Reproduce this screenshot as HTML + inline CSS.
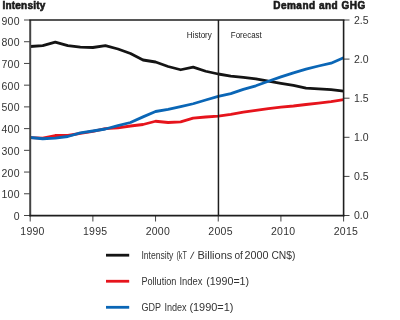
<!DOCTYPE html>
<html><head><meta charset="utf-8"><style>
html,body{margin:0;padding:0;background:#fff;}
svg{display:block;font-family:"Liberation Sans",sans-serif;will-change:transform;}
</style></head><body>
<svg width="400" height="320" viewBox="0 0 400 320">
<line x1="24" y1="215.50" x2="30.20" y2="215.50" stroke="#444" stroke-width="1"/>
<text x="19.9" y="220.10" text-anchor="end" font-size="10.5" fill="#333" letter-spacing="0.3">0</text>
<line x1="24" y1="193.78" x2="30.20" y2="193.78" stroke="#444" stroke-width="1"/>
<text x="19.9" y="198.38" text-anchor="end" font-size="10.5" fill="#333" letter-spacing="0.3">100</text>
<line x1="24" y1="172.06" x2="30.20" y2="172.06" stroke="#444" stroke-width="1"/>
<text x="19.9" y="176.66" text-anchor="end" font-size="10.5" fill="#333" letter-spacing="0.3">200</text>
<line x1="24" y1="150.33" x2="30.20" y2="150.33" stroke="#444" stroke-width="1"/>
<text x="19.9" y="154.93" text-anchor="end" font-size="10.5" fill="#333" letter-spacing="0.3">300</text>
<line x1="24" y1="128.61" x2="30.20" y2="128.61" stroke="#444" stroke-width="1"/>
<text x="19.9" y="133.21" text-anchor="end" font-size="10.5" fill="#333" letter-spacing="0.3">400</text>
<line x1="24" y1="106.89" x2="30.20" y2="106.89" stroke="#444" stroke-width="1"/>
<text x="19.9" y="111.49" text-anchor="end" font-size="10.5" fill="#333" letter-spacing="0.3">500</text>
<line x1="24" y1="85.17" x2="30.20" y2="85.17" stroke="#444" stroke-width="1"/>
<text x="19.9" y="89.77" text-anchor="end" font-size="10.5" fill="#333" letter-spacing="0.3">600</text>
<line x1="24" y1="63.44" x2="30.20" y2="63.44" stroke="#444" stroke-width="1"/>
<text x="19.9" y="68.04" text-anchor="end" font-size="10.5" fill="#333" letter-spacing="0.3">700</text>
<line x1="24" y1="41.72" x2="30.20" y2="41.72" stroke="#444" stroke-width="1"/>
<text x="19.9" y="46.32" text-anchor="end" font-size="10.5" fill="#333" letter-spacing="0.3">800</text>
<line x1="24" y1="20.00" x2="30.20" y2="20.00" stroke="#444" stroke-width="1"/>
<text x="19.9" y="24.60" text-anchor="end" font-size="10.5" fill="#333" letter-spacing="0.3">900</text>
<line x1="343.60" y1="215.50" x2="349.5" y2="215.50" stroke="#444" stroke-width="1"/>
<text x="354" y="219.20" font-size="10.5" fill="#333">0.0</text>
<line x1="343.60" y1="176.40" x2="349.5" y2="176.40" stroke="#444" stroke-width="1"/>
<text x="354" y="180.10" font-size="10.5" fill="#333">0.5</text>
<line x1="343.60" y1="137.30" x2="349.5" y2="137.30" stroke="#444" stroke-width="1"/>
<text x="354" y="141.00" font-size="10.5" fill="#333">1.0</text>
<line x1="343.60" y1="98.20" x2="349.5" y2="98.20" stroke="#444" stroke-width="1"/>
<text x="354" y="101.90" font-size="10.5" fill="#333">1.5</text>
<line x1="343.60" y1="59.10" x2="349.5" y2="59.10" stroke="#444" stroke-width="1"/>
<text x="354" y="62.80" font-size="10.5" fill="#333">2.0</text>
<line x1="343.60" y1="20.00" x2="349.5" y2="20.00" stroke="#444" stroke-width="1"/>
<text x="354" y="23.70" font-size="10.5" fill="#333">2.5</text>
<line x1="30.20" y1="215.50" x2="30.20" y2="221.5" stroke="#444" stroke-width="1"/>
<text x="32.50" y="234.9" text-anchor="middle" font-size="10.5" fill="#333" letter-spacing="0.25">1990</text>
<line x1="92.88" y1="215.50" x2="92.88" y2="221.5" stroke="#444" stroke-width="1"/>
<text x="95.18" y="234.9" text-anchor="middle" font-size="10.5" fill="#333" letter-spacing="0.25">1995</text>
<line x1="155.56" y1="215.50" x2="155.56" y2="221.5" stroke="#444" stroke-width="1"/>
<text x="157.86" y="234.9" text-anchor="middle" font-size="10.5" fill="#333" letter-spacing="0.25">2000</text>
<line x1="218.24" y1="215.50" x2="218.24" y2="221.5" stroke="#444" stroke-width="1"/>
<text x="220.54" y="234.9" text-anchor="middle" font-size="10.5" fill="#333" letter-spacing="0.25">2005</text>
<line x1="280.92" y1="215.50" x2="280.92" y2="221.5" stroke="#444" stroke-width="1"/>
<text x="283.22" y="234.9" text-anchor="middle" font-size="10.5" fill="#333" letter-spacing="0.25">2010</text>
<line x1="343.60" y1="215.50" x2="343.60" y2="221.5" stroke="#444" stroke-width="1"/>
<text x="345.90" y="234.9" text-anchor="middle" font-size="10.5" fill="#333" letter-spacing="0.25">2015</text>
<polyline points="30.20,46.50 42.74,45.60 55.27,42.20 67.81,45.70 80.34,47.20 92.88,47.50 105.42,45.60 117.95,49.00 130.49,53.50 143.02,60.00 155.56,62.00 168.10,66.50 180.63,69.75 193.17,67.10 205.70,71.25 218.24,74.00 230.78,76.10 243.31,77.30 255.85,78.80 268.38,81.20 280.92,83.30 293.46,85.40 305.99,88.20 318.53,88.90 331.06,89.70 343.60,91.20" fill="none" stroke="#141414" stroke-width="2.8" stroke-linejoin="round" stroke-linecap="butt"/>
<polyline points="30.20,137.60 42.74,138.20 55.27,135.50 67.81,135.50 80.34,133.40 92.88,131.30 105.42,128.60 117.95,127.80 130.49,126.00 143.02,124.50 155.56,121.25 168.10,122.50 180.63,121.90 193.17,118.20 205.70,117.00 218.24,116.10 230.78,114.30 243.31,112.20 255.85,110.40 268.38,108.70 280.92,107.20 293.46,106.00 305.99,104.50 318.53,103.10 331.06,101.70 343.60,99.60" fill="none" stroke="#e6141c" stroke-width="2.8" stroke-linejoin="round" stroke-linecap="butt"/>
<polyline points="30.20,137.50 42.74,138.75 55.27,138.10 67.81,136.50 80.34,132.90 92.88,131.00 105.42,129.00 117.95,125.60 130.49,122.50 143.02,116.90 155.56,111.50 168.10,109.40 180.63,106.60 193.17,103.75 205.70,100.00 218.24,96.40 230.78,93.60 243.31,89.40 255.85,85.80 268.38,81.20 280.92,76.90 293.46,72.80 305.99,69.20 318.53,66.00 331.06,63.20 343.60,57.80" fill="none" stroke="#0a66b6" stroke-width="2.8" stroke-linejoin="round" stroke-linecap="butt"/>
<line x1="30.20" y1="20.00" x2="30.20" y2="216.30" stroke="#444" stroke-width="2"/>
<line x1="343.60" y1="20.00" x2="343.60" y2="216.30" stroke="#1e1e1e" stroke-width="1.6"/>
<line x1="29.30" y1="20.00" x2="344.40" y2="20.00" stroke="#1e1e1e" stroke-width="1.6"/>
<line x1="29.30" y1="215.60" x2="344.40" y2="215.60" stroke="#1e1e1e" stroke-width="1.6"/>
<line x1="218.44" y1="20.00" x2="218.44" y2="215.50" stroke="#1e1e1e" stroke-width="1.5"/>
<text x="211.8" y="37.8" text-anchor="end" font-size="9" fill="#222" textLength="25" lengthAdjust="spacingAndGlyphs">History</text>
<text x="230.8" y="37.8" font-size="9" fill="#222" textLength="31" lengthAdjust="spacingAndGlyphs">Forecast</text>
<text x="2.5" y="9.2" font-size="10" font-weight="bold" fill="#1a1a1a" stroke="#1a1a1a" stroke-width="0.6" letter-spacing="0.2">Intensity</text>
<text x="273.2" y="9.2" font-size="10" font-weight="bold" fill="#1a1a1a" stroke="#1a1a1a" stroke-width="0.6" letter-spacing="0.5">Demand and GHG</text>
<line x1="106" y1="255.20" x2="129.2" y2="255.20" stroke="#141414" stroke-width="2.8"/>
<text x="141.40" y="259.15" font-size="10" fill="#333" textLength="32.00" lengthAdjust="spacingAndGlyphs">Intensity</text>
<text x="176.40" y="259.15" font-size="10" fill="#333" textLength="10.40" lengthAdjust="spacingAndGlyphs">(kT</text>
<line x1="190.40" y1="258.95" x2="194.00" y2="251.75" stroke="#333" stroke-width="0.9"/>
<text x="197.40" y="259.15" font-size="10" fill="#333" textLength="35.00" lengthAdjust="spacingAndGlyphs">Billions</text>
<text x="234.40" y="259.15" font-size="10" fill="#333" textLength="8.40" lengthAdjust="spacingAndGlyphs">of</text>
<text x="244.40" y="259.15" font-size="10" fill="#333" textLength="24.00" lengthAdjust="spacingAndGlyphs">2000</text>
<text x="271.40" y="259.15" font-size="10" fill="#333" textLength="24.00" lengthAdjust="spacingAndGlyphs">CN$)</text>
<line x1="106" y1="281.25" x2="129.2" y2="281.25" stroke="#e6141c" stroke-width="2.8"/>
<text x="141.40" y="284.90" font-size="10" fill="#333" textLength="35.00" lengthAdjust="spacingAndGlyphs">Pollution</text>
<text x="179.40" y="284.90" font-size="10" fill="#333" textLength="23.00" lengthAdjust="spacingAndGlyphs">Index</text>
<text x="206.15" y="284.90" font-size="10" fill="#333" textLength="42.95" lengthAdjust="spacingAndGlyphs">(1990=1)</text>
<line x1="106" y1="307.30" x2="129.2" y2="307.30" stroke="#0a66b6" stroke-width="2.8"/>
<text x="141.40" y="310.65" font-size="10" fill="#333" textLength="19.50" lengthAdjust="spacingAndGlyphs">GDP</text>
<text x="164.40" y="310.65" font-size="10" fill="#333" textLength="22.25" lengthAdjust="spacingAndGlyphs">Index</text>
<text x="189.40" y="310.65" font-size="10" fill="#333" textLength="44.00" lengthAdjust="spacingAndGlyphs">(1990=1)</text>
</svg>
</body></html>
